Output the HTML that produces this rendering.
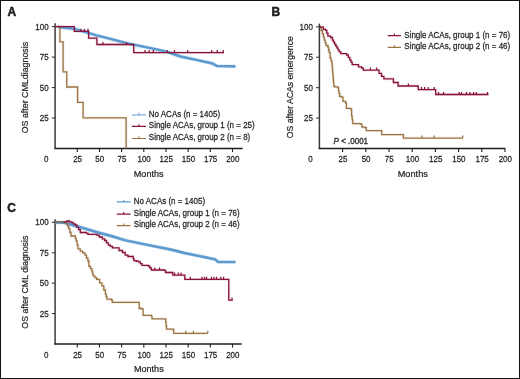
<!DOCTYPE html>
<html><head><meta charset="utf-8"><style>
html,body{margin:0;padding:0;width:520px;height:379px;overflow:hidden;background:#fff;}
</style></head><body>
<svg width="520" height="379" viewBox="0 0 520 379" style="position:absolute;left:0;top:0;font-family:'Liberation Sans', sans-serif;will-change:transform" fill="#262626">
<rect x="0" y="0" width="520" height="379" fill="#fff"/>
<path d="M0 0H520V1H0Z M0 378H520V379H0Z M0 0H1V379H0Z M519 0H520V379H519Z" fill="#111"/>
<text transform="translate(7.40,15.80) scale(1,1.080)" font-size="12.00" text-anchor="start" font-weight="bold" stroke="#111" stroke-width="0.45">A</text>
<text transform="translate(271.60,15.80) scale(1,1.080)" font-size="12.00" text-anchor="start" font-weight="bold" stroke="#111" stroke-width="0.45">B</text>
<text transform="translate(7.20,211.60) scale(1,1.080)" font-size="12.00" text-anchor="start" font-weight="bold" stroke="#111" stroke-width="0.45">C</text>
<path d="M55.10 23.30 V149.10" fill="none" stroke="#3a3a3a" stroke-width="1.5"/>
<path d="M54.40 148.50 H242.60" fill="none" stroke="#1c1c1c" stroke-width="1.35"/>
<path d="M51.80 118.03 H55.10" stroke="#3a3a3a" stroke-width="1.1"/>
<text transform="translate(48.60,121.12) scale(1,1.140)" font-size="8.00" text-anchor="end" font-weight="normal" stroke="#262626" stroke-width="0.22">25</text>
<path d="M51.80 87.55 H55.10" stroke="#3a3a3a" stroke-width="1.1"/>
<text transform="translate(48.60,90.65) scale(1,1.140)" font-size="8.00" text-anchor="end" font-weight="normal" stroke="#262626" stroke-width="0.22">50</text>
<path d="M51.80 57.07 H55.10" stroke="#3a3a3a" stroke-width="1.1"/>
<text transform="translate(48.60,60.17) scale(1,1.140)" font-size="8.00" text-anchor="end" font-weight="normal" stroke="#262626" stroke-width="0.22">75</text>
<path d="M51.80 26.60 H55.10" stroke="#3a3a3a" stroke-width="1.1"/>
<text transform="translate(48.60,29.70) scale(1,1.140)" font-size="8.00" text-anchor="end" font-weight="normal" stroke="#262626" stroke-width="0.22">100</text>
<path d="M77.28 148.50 V152.10" stroke="#1c1c1c" stroke-width="1.1"/>
<text transform="translate(77.58,162.40) scale(1,1.140)" font-size="8.00" text-anchor="middle" font-weight="normal" stroke="#262626" stroke-width="0.22">25</text>
<path d="M99.45 148.50 V152.10" stroke="#1c1c1c" stroke-width="1.1"/>
<text transform="translate(99.75,162.40) scale(1,1.140)" font-size="8.00" text-anchor="middle" font-weight="normal" stroke="#262626" stroke-width="0.22">50</text>
<path d="M121.62 148.50 V152.10" stroke="#1c1c1c" stroke-width="1.1"/>
<text transform="translate(121.92,162.40) scale(1,1.140)" font-size="8.00" text-anchor="middle" font-weight="normal" stroke="#262626" stroke-width="0.22">75</text>
<path d="M143.80 148.50 V152.10" stroke="#1c1c1c" stroke-width="1.1"/>
<text transform="translate(144.10,162.40) scale(1,1.140)" font-size="8.00" text-anchor="middle" font-weight="normal" stroke="#262626" stroke-width="0.22">100</text>
<path d="M165.97 148.50 V152.10" stroke="#1c1c1c" stroke-width="1.1"/>
<text transform="translate(166.28,162.40) scale(1,1.140)" font-size="8.00" text-anchor="middle" font-weight="normal" stroke="#262626" stroke-width="0.22">125</text>
<path d="M188.15 148.50 V152.10" stroke="#1c1c1c" stroke-width="1.1"/>
<text transform="translate(188.45,162.40) scale(1,1.140)" font-size="8.00" text-anchor="middle" font-weight="normal" stroke="#262626" stroke-width="0.22">150</text>
<path d="M210.32 148.50 V152.10" stroke="#1c1c1c" stroke-width="1.1"/>
<text transform="translate(210.62,162.40) scale(1,1.140)" font-size="8.00" text-anchor="middle" font-weight="normal" stroke="#262626" stroke-width="0.22">175</text>
<path d="M232.50 148.50 V152.10" stroke="#1c1c1c" stroke-width="1.1"/>
<text transform="translate(232.80,162.40) scale(1,1.140)" font-size="8.00" text-anchor="middle" font-weight="normal" stroke="#262626" stroke-width="0.22">200</text>
<text transform="translate(46.10,162.40) scale(1,1.140)" font-size="8.00" text-anchor="middle" font-weight="normal" stroke="#262626" stroke-width="0.22">0</text>
<text transform="translate(133.80,176.60) scale(1,1.080)" font-size="9.00" text-anchor="start" font-weight="normal" textLength="29.80" lengthAdjust="spacingAndGlyphs" stroke="#262626" stroke-width="0.22">Months</text>
<text transform="translate(28.20,87.60) rotate(-90) scale(1,1.060)" font-size="9.00" text-anchor="middle" font-weight="normal" textLength="91.50" lengthAdjust="spacingAndGlyphs" stroke="#262626" stroke-width="0.22">OS after CMLdiagnosis</text>
<path d="M131.80 115.00 H146.00 M138.90 115.00 V112.80" stroke="#5e9bd0" stroke-width="1.10"/>
<text transform="translate(148.80,116.50) scale(1,1.140)" font-size="8.00" text-anchor="start" font-weight="normal" stroke="#262626" stroke-width="0.22">No ACAs (n = 1405)</text>
<path d="M131.80 126.40 H146.00 M138.90 126.40 V124.20" stroke="#8a1339" stroke-width="1.10"/>
<text transform="translate(148.80,128.00) scale(1,1.140)" font-size="8.00" text-anchor="start" font-weight="normal" stroke="#262626" stroke-width="0.22">Single ACAs, group 1 (n = 25)</text>
<path d="M131.80 138.50 H146.00 M138.90 138.50 V136.30" stroke="#9c7444" stroke-width="1.10"/>
<text transform="translate(148.80,139.50) scale(1,1.140)" font-size="8.00" text-anchor="start" font-weight="normal" stroke="#262626" stroke-width="0.22">Single ACAs, group 2 (n = 8)</text>
<path d="M319.40 23.60 V149.10" fill="none" stroke="#3a3a3a" stroke-width="1.5"/>
<path d="M318.70 148.50 H505.30" fill="none" stroke="#1c1c1c" stroke-width="1.35"/>
<path d="M316.10 118.08 H319.40" stroke="#3a3a3a" stroke-width="1.1"/>
<text transform="translate(312.90,121.17) scale(1,1.140)" font-size="8.00" text-anchor="end" font-weight="normal" stroke="#262626" stroke-width="0.22">25</text>
<path d="M316.10 87.65 H319.40" stroke="#3a3a3a" stroke-width="1.1"/>
<text transform="translate(312.90,90.75) scale(1,1.140)" font-size="8.00" text-anchor="end" font-weight="normal" stroke="#262626" stroke-width="0.22">50</text>
<path d="M316.10 57.22 H319.40" stroke="#3a3a3a" stroke-width="1.1"/>
<text transform="translate(312.90,60.32) scale(1,1.140)" font-size="8.00" text-anchor="end" font-weight="normal" stroke="#262626" stroke-width="0.22">75</text>
<path d="M316.10 26.80 H319.40" stroke="#3a3a3a" stroke-width="1.1"/>
<text transform="translate(312.90,29.90) scale(1,1.140)" font-size="8.00" text-anchor="end" font-weight="normal" stroke="#262626" stroke-width="0.22">100</text>
<path d="M342.60 148.50 V152.10" stroke="#1c1c1c" stroke-width="1.1"/>
<text transform="translate(342.90,162.40) scale(1,1.140)" font-size="8.00" text-anchor="middle" font-weight="normal" stroke="#262626" stroke-width="0.22">25</text>
<path d="M365.80 148.50 V152.10" stroke="#1c1c1c" stroke-width="1.1"/>
<text transform="translate(366.10,162.40) scale(1,1.140)" font-size="8.00" text-anchor="middle" font-weight="normal" stroke="#262626" stroke-width="0.22">50</text>
<path d="M389.00 148.50 V152.10" stroke="#1c1c1c" stroke-width="1.1"/>
<text transform="translate(389.30,162.40) scale(1,1.140)" font-size="8.00" text-anchor="middle" font-weight="normal" stroke="#262626" stroke-width="0.22">75</text>
<path d="M412.20 148.50 V152.10" stroke="#1c1c1c" stroke-width="1.1"/>
<text transform="translate(412.50,162.40) scale(1,1.140)" font-size="8.00" text-anchor="middle" font-weight="normal" stroke="#262626" stroke-width="0.22">100</text>
<path d="M435.40 148.50 V152.10" stroke="#1c1c1c" stroke-width="1.1"/>
<text transform="translate(435.70,162.40) scale(1,1.140)" font-size="8.00" text-anchor="middle" font-weight="normal" stroke="#262626" stroke-width="0.22">125</text>
<path d="M458.60 148.50 V152.10" stroke="#1c1c1c" stroke-width="1.1"/>
<text transform="translate(458.90,162.40) scale(1,1.140)" font-size="8.00" text-anchor="middle" font-weight="normal" stroke="#262626" stroke-width="0.22">150</text>
<path d="M481.80 148.50 V152.10" stroke="#1c1c1c" stroke-width="1.1"/>
<text transform="translate(482.10,162.40) scale(1,1.140)" font-size="8.00" text-anchor="middle" font-weight="normal" stroke="#262626" stroke-width="0.22">175</text>
<path d="M505.00 148.50 V152.10" stroke="#1c1c1c" stroke-width="1.1"/>
<text transform="translate(505.30,162.40) scale(1,1.140)" font-size="8.00" text-anchor="middle" font-weight="normal" stroke="#262626" stroke-width="0.22">200</text>
<text transform="translate(310.40,162.40) scale(1,1.140)" font-size="8.00" text-anchor="middle" font-weight="normal" stroke="#262626" stroke-width="0.22">0</text>
<text transform="translate(397.70,177.30) scale(1,1.080)" font-size="9.00" text-anchor="start" font-weight="normal" textLength="30.20" lengthAdjust="spacingAndGlyphs" stroke="#262626" stroke-width="0.22">Months</text>
<text transform="translate(292.70,87.20) rotate(-90) scale(1,1.060)" font-size="9.00" text-anchor="middle" font-weight="normal" textLength="102.00" lengthAdjust="spacingAndGlyphs" stroke="#262626" stroke-width="0.22">OS after ACAs emergence</text>
<path d="M387.70 35.60 H401.00 M394.35 35.60 V33.40" stroke="#8a1339" stroke-width="1.10"/>
<text transform="translate(404.30,37.60) scale(1,1.140)" font-size="8.00" text-anchor="start" font-weight="normal" stroke="#262626" stroke-width="0.22">Single ACAs, group 1 (n = 76)</text>
<path d="M387.70 47.40 H401.00 M394.35 47.40 V45.20" stroke="#9c7444" stroke-width="1.10"/>
<text transform="translate(404.30,49.10) scale(1,1.140)" font-size="8.00" text-anchor="start" font-weight="normal" stroke="#262626" stroke-width="0.22">Single ACAs, group 2 (n = 46)</text>
<text transform="translate(333.6,144.0) scale(1,1.140)" font-size="8.00" stroke="#2a2a2a" stroke-width="0.3"><tspan font-style="italic">P</tspan> &lt; .0001</text>
<path d="M55.10 219.20 V344.60" fill="none" stroke="#3a3a3a" stroke-width="1.5"/>
<path d="M54.40 344.00 H241.60" fill="none" stroke="#1c1c1c" stroke-width="1.35"/>
<path d="M51.80 313.57 H55.10" stroke="#3a3a3a" stroke-width="1.1"/>
<text transform="translate(48.60,316.68) scale(1,1.140)" font-size="8.00" text-anchor="end" font-weight="normal" stroke="#262626" stroke-width="0.22">25</text>
<path d="M51.80 283.15 H55.10" stroke="#3a3a3a" stroke-width="1.1"/>
<text transform="translate(48.60,286.25) scale(1,1.140)" font-size="8.00" text-anchor="end" font-weight="normal" stroke="#262626" stroke-width="0.22">50</text>
<path d="M51.80 252.73 H55.10" stroke="#3a3a3a" stroke-width="1.1"/>
<text transform="translate(48.60,255.83) scale(1,1.140)" font-size="8.00" text-anchor="end" font-weight="normal" stroke="#262626" stroke-width="0.22">75</text>
<path d="M51.80 222.30 H55.10" stroke="#3a3a3a" stroke-width="1.1"/>
<text transform="translate(48.60,225.40) scale(1,1.140)" font-size="8.00" text-anchor="end" font-weight="normal" stroke="#262626" stroke-width="0.22">100</text>
<path d="M77.28 344.00 V347.60" stroke="#1c1c1c" stroke-width="1.1"/>
<text transform="translate(77.58,357.90) scale(1,1.140)" font-size="8.00" text-anchor="middle" font-weight="normal" stroke="#262626" stroke-width="0.22">25</text>
<path d="M99.45 344.00 V347.60" stroke="#1c1c1c" stroke-width="1.1"/>
<text transform="translate(99.75,357.90) scale(1,1.140)" font-size="8.00" text-anchor="middle" font-weight="normal" stroke="#262626" stroke-width="0.22">50</text>
<path d="M121.62 344.00 V347.60" stroke="#1c1c1c" stroke-width="1.1"/>
<text transform="translate(121.92,357.90) scale(1,1.140)" font-size="8.00" text-anchor="middle" font-weight="normal" stroke="#262626" stroke-width="0.22">75</text>
<path d="M143.80 344.00 V347.60" stroke="#1c1c1c" stroke-width="1.1"/>
<text transform="translate(144.10,357.90) scale(1,1.140)" font-size="8.00" text-anchor="middle" font-weight="normal" stroke="#262626" stroke-width="0.22">100</text>
<path d="M165.97 344.00 V347.60" stroke="#1c1c1c" stroke-width="1.1"/>
<text transform="translate(166.28,357.90) scale(1,1.140)" font-size="8.00" text-anchor="middle" font-weight="normal" stroke="#262626" stroke-width="0.22">125</text>
<path d="M188.15 344.00 V347.60" stroke="#1c1c1c" stroke-width="1.1"/>
<text transform="translate(188.45,357.90) scale(1,1.140)" font-size="8.00" text-anchor="middle" font-weight="normal" stroke="#262626" stroke-width="0.22">150</text>
<path d="M210.32 344.00 V347.60" stroke="#1c1c1c" stroke-width="1.1"/>
<text transform="translate(210.62,357.90) scale(1,1.140)" font-size="8.00" text-anchor="middle" font-weight="normal" stroke="#262626" stroke-width="0.22">175</text>
<path d="M232.50 344.00 V347.60" stroke="#1c1c1c" stroke-width="1.1"/>
<text transform="translate(232.80,357.90) scale(1,1.140)" font-size="8.00" text-anchor="middle" font-weight="normal" stroke="#262626" stroke-width="0.22">200</text>
<text transform="translate(46.10,357.90) scale(1,1.140)" font-size="8.00" text-anchor="middle" font-weight="normal" stroke="#262626" stroke-width="0.22">0</text>
<text transform="translate(133.90,372.30) scale(1,1.080)" font-size="9.00" text-anchor="start" font-weight="normal" textLength="29.80" lengthAdjust="spacingAndGlyphs" stroke="#262626" stroke-width="0.22">Months</text>
<text transform="translate(28.20,282.20) rotate(-90) scale(1,1.060)" font-size="9.00" text-anchor="middle" font-weight="normal" textLength="93.00" lengthAdjust="spacingAndGlyphs" stroke="#262626" stroke-width="0.22">OS after CML diagnosis</text>
<path d="M116.80 201.90 H130.60 M123.70 201.90 V199.70" stroke="#5e9bd0" stroke-width="1.10"/>
<text transform="translate(133.80,203.60) scale(1,1.140)" font-size="8.00" text-anchor="start" font-weight="normal" stroke="#262626" stroke-width="0.22">No ACAs (n = 1405)</text>
<path d="M116.80 214.10 H130.60 M123.70 214.10 V211.90" stroke="#8a1339" stroke-width="1.10"/>
<text transform="translate(133.80,215.60) scale(1,1.140)" font-size="8.00" text-anchor="start" font-weight="normal" stroke="#262626" stroke-width="0.22">Single ACAs, group 1 (n = 76)</text>
<path d="M116.80 225.60 H130.60 M123.70 225.60 V223.40" stroke="#9c7444" stroke-width="1.10"/>
<text transform="translate(133.80,226.90) scale(1,1.140)" font-size="8.00" text-anchor="start" font-weight="normal" stroke="#262626" stroke-width="0.22">Single ACAs, group 2 (n = 46)</text>
<path d="M58.00 27.00 L64.00 27.60 L75.00 29.00 L96.00 35.20 L110.00 38.80 L127.00 43.30 L150.00 48.00 L165.00 51.30 L181.00 56.60 L197.00 60.00 L212.00 63.40 L217.00 66.00 L235.50 66.40" fill="none" stroke="#5e9bd0" stroke-width="4.30" stroke-opacity="0.12" stroke-linejoin="round"/>
<path d="M55.00 26.60 L74.30 26.60 L74.30 31.40 L88.60 31.40 L88.60 38.20 L96.90 38.20 L96.90 44.50 L133.75 44.50 L133.75 52.60 L224.00 52.60" fill="none" stroke="#8a1339" stroke-width="2.90" stroke-opacity="0.12" stroke-linejoin="round"/>
<path d="M55.00 26.60 L59.90 26.60 L59.90 41.90 L63.10 41.90 L63.10 71.90 L66.80 71.90 L66.80 87.00 L77.60 87.00 L77.60 102.40 L83.10 102.40 L83.10 117.80 L126.10 117.80 L126.10 148.50" fill="none" stroke="#9c7444" stroke-width="2.90" stroke-opacity="0.12" stroke-linejoin="round"/>
<path d="M319.60 26.90 L320.70 26.90 L320.70 27.10 L323.40 27.10 L323.40 29.40 L325.60 29.40 L325.60 30.30 L326.75 30.30 L326.75 33.20 L327.90 33.20 L327.90 36.10 L330.60 36.10 L330.60 37.50 L332.40 37.50 L332.40 40.20 L333.50 40.20 L333.50 42.20 L334.60 42.20 L334.60 44.20 L335.75 44.20 L335.75 46.00 L336.90 46.00 L336.90 47.80 L338.00 47.80 L338.00 49.80 L339.10 49.80 L339.10 51.80 L340.90 51.80 L340.90 53.60 L344.00 53.60 L344.00 53.60 L346.70 53.60 L346.70 55.00 L348.25 55.00 L348.25 57.40 L349.80 57.40 L349.80 59.80 L351.00 59.80 L351.00 62.20 L352.20 62.20 L352.20 64.60 L356.10 64.60 L356.10 64.60 L358.50 64.60 L358.50 66.90 L361.70 66.90 L361.70 68.20 L363.30 68.20 L363.30 70.10 L378.50 70.10 L378.50 70.10 L379.10 70.10 L379.10 73.30 L381.50 73.30 L381.50 76.40 L383.90 76.40 L383.90 78.80 L392.60 78.80 L392.60 78.80 L393.40 78.80 L393.40 82.50 L397.30 82.50 L397.30 82.50 L398.10 82.50 L398.10 86.00 L418.20 86.00 L418.20 86.00 L418.20 86.00 L418.20 89.60 L435.70 89.60 L435.70 89.60 L435.70 89.60 L435.70 94.50 L488.50 94.50 L488.50 94.50" fill="none" stroke="#8a1339" stroke-width="2.90" stroke-opacity="0.12" stroke-linejoin="round"/>
<path d="M320.00 27.10 L321.25 27.10 L321.25 30.50 L322.50 30.50 L322.50 33.90 L323.40 33.90 L323.40 37.05 L324.30 37.05 L324.30 40.20 L325.20 40.20 L325.20 42.85 L326.10 42.85 L326.10 45.50 L327.90 45.50 L327.90 47.30 L328.55 47.30 L328.55 50.00 L329.20 50.00 L329.20 52.70 L330.10 52.70 L330.10 58.00 L331.00 58.00 L331.00 60.85 L331.90 60.85 L331.90 63.70 L332.17 63.70 L332.17 66.86 L332.44 66.86 L332.44 70.01 L332.71 70.01 L332.71 73.17 L332.99 73.17 L332.99 76.33 L333.26 76.33 L333.26 79.49 L333.53 79.49 L333.53 82.64 L333.80 82.64 L333.80 85.80 L334.00 85.80 L334.00 86.00 L334.40 86.00 L334.40 86.90 L337.90 86.90 L337.90 87.70 L338.47 87.70 L338.47 90.57 L339.03 90.57 L339.03 93.43 L339.60 93.43 L339.60 96.30 L341.30 96.30 L341.30 97.20 L343.00 97.20 L343.00 101.40 L345.60 101.40 L345.60 103.20 L346.40 103.20 L346.40 108.30 L350.70 108.30 L350.70 109.20 L351.60 109.20 L351.60 116.00 L352.20 116.00 L352.20 119.85 L352.80 119.85 L352.80 123.70 L361.00 123.70 L361.00 124.30 L361.90 124.30 L361.90 127.20 L365.30 127.20 L365.30 127.70 L366.20 127.70 L366.20 130.60 L381.70 130.60 L381.70 130.60 L381.70 130.60 L381.70 134.70 L403.40 134.70 L403.40 134.70 L403.40 134.70 L403.40 138.10 L463.00 138.10 L463.00 138.10" fill="none" stroke="#9c7444" stroke-width="2.90" stroke-opacity="0.12" stroke-linejoin="round"/>
<path d="M55.00 222.30 L64.30 222.60 L73.80 225.40 L80.90 227.40 L95.80 231.90 L111.60 236.10 L125.00 240.20 L148.00 245.00 L171.10 249.60 L185.00 253.10 L197.70 255.70 L207.00 257.60 L215.30 259.40 L218.00 262.00 L235.60 262.00" fill="none" stroke="#5e9bd0" stroke-width="4.30" stroke-opacity="0.12" stroke-linejoin="round"/>
<path d="M55.00 222.30 L64.30 222.30 L64.30 221.90 L67.00 221.90 L67.00 221.00 L69.30 221.00 L69.30 221.80 L71.60 221.80 L71.60 222.60 L73.35 222.60 L73.35 223.80 L75.10 223.80 L75.10 225.00 L76.85 225.00 L76.85 227.30 L78.60 227.30 L78.60 229.60 L80.30 229.60 L80.30 232.50 L86.10 232.50 L86.10 233.10 L87.90 233.10 L87.90 234.30 L93.70 234.30 L93.70 234.30 L96.90 234.30 L96.90 235.20 L99.30 235.20 L99.30 237.00 L102.30 237.00 L102.30 238.80 L104.60 238.80 L104.60 240.50 L106.50 240.50 L106.50 242.80 L108.40 242.80 L108.40 245.10 L110.40 245.10 L110.40 246.45 L112.40 246.45 L112.40 247.80 L117.80 247.80 L117.80 247.80 L119.10 247.80 L119.10 250.50 L122.50 250.50 L122.50 252.50 L125.20 252.50 L125.20 255.20 L127.90 255.20 L127.90 256.50 L132.60 256.50 L132.60 256.50 L133.25 256.50 L133.25 258.55 L133.90 258.55 L133.90 260.60 L136.25 260.60 L136.25 261.25 L138.60 261.25 L138.60 261.90 L140.30 261.90 L140.30 263.60 L142.00 263.60 L142.00 265.30 L148.10 265.30 L148.10 266.00 L149.75 266.00 L149.75 268.00 L151.40 268.00 L151.40 270.00 L164.20 270.00 L164.20 270.30 L165.60 270.30 L165.60 272.50 L171.00 272.50 L171.00 272.50 L172.80 272.50 L172.80 275.10 L183.90 275.10 L183.90 275.10 L184.80 275.10 L184.80 279.40 L228.80 279.40 L228.80 279.40 L228.80 279.40 L228.80 300.10 L232.80 300.10 L232.80 300.10" fill="none" stroke="#8a1339" stroke-width="2.90" stroke-opacity="0.12" stroke-linejoin="round"/>
<path d="M55.00 222.30 L64.80 222.30 L64.80 222.30 L66.40 222.30 L66.40 223.80 L67.55 223.80 L67.55 226.15 L68.70 226.15 L68.70 228.50 L69.85 228.50 L69.85 232.25 L71.00 232.25 L71.00 236.00 L74.50 236.00 L74.50 236.00 L75.40 236.00 L75.40 238.60 L76.30 238.60 L76.30 241.20 L77.15 241.20 L77.15 245.00 L78.00 245.00 L78.00 248.80 L80.30 248.80 L80.30 251.10 L82.60 251.10 L82.60 252.80 L85.00 252.80 L85.00 255.20 L86.45 255.20 L86.45 258.10 L87.90 258.10 L87.90 261.00 L88.90 261.00 L88.90 266.30 L90.40 266.30 L90.40 268.65 L91.90 268.65 L91.90 271.00 L92.50 271.00 L92.50 273.40 L93.10 273.40 L93.10 275.80 L94.85 275.80 L94.85 277.55 L96.60 277.55 L96.60 279.30 L99.60 279.30 L99.60 282.90 L102.00 282.90 L102.00 285.90 L103.80 285.90 L103.80 290.00 L105.40 290.00 L105.40 293.80 L106.15 293.80 L106.15 296.50 L106.90 296.50 L106.90 299.20 L111.50 299.20 L111.50 300.00 L112.30 300.00 L112.30 302.30 L138.50 302.30 L138.50 302.30 L139.20 302.30 L139.20 308.50 L142.30 308.50 L142.30 309.20 L143.10 309.20 L143.10 315.40 L151.50 315.40 L151.50 316.20 L152.00 316.20 L152.00 318.90 L165.40 318.90 L165.40 319.10 L165.77 319.10 L165.77 322.47 L166.13 322.47 L166.13 325.83 L166.50 325.83 L166.50 329.20 L173.20 329.20 L173.20 329.50 L173.70 329.50 L173.70 333.40 L207.80 333.40 L207.80 333.40" fill="none" stroke="#9c7444" stroke-width="2.90" stroke-opacity="0.12" stroke-linejoin="round"/>
<path d="M58.00 27.00 L64.00 27.60 L75.00 29.00 L96.00 35.20 L110.00 38.80 L127.00 43.30 L150.00 48.00 L165.00 51.30 L181.00 56.60 L197.00 60.00 L212.00 63.40 L217.00 66.00 L235.50 66.40" fill="none" stroke="#5e9bd0" stroke-width="2.70" stroke-linejoin="miter"/>
<path d="M55.00 222.30 L64.30 222.60 L73.80 225.40 L80.90 227.40 L95.80 231.90 L111.60 236.10 L125.00 240.20 L148.00 245.00 L171.10 249.60 L185.00 253.10 L197.70 255.70 L207.00 257.60 L215.30 259.40 L218.00 262.00 L235.60 262.00" fill="none" stroke="#5e9bd0" stroke-width="2.70" stroke-linejoin="miter"/>
<path d="M55.00 26.60 L59.90 26.60 L59.90 41.90 L63.10 41.90 L63.10 71.90 L66.80 71.90 L66.80 87.00 L77.60 87.00 L77.60 102.40 L83.10 102.40 L83.10 117.80 L126.10 117.80 L126.10 148.50" fill="none" stroke="#9c7444" stroke-width="1.30" stroke-linejoin="miter"/>
<path d="M320.00 27.10 L321.25 27.10 L321.25 30.50 L322.50 30.50 L322.50 33.90 L323.40 33.90 L323.40 37.05 L324.30 37.05 L324.30 40.20 L325.20 40.20 L325.20 42.85 L326.10 42.85 L326.10 45.50 L327.90 45.50 L327.90 47.30 L328.55 47.30 L328.55 50.00 L329.20 50.00 L329.20 52.70 L330.10 52.70 L330.10 58.00 L331.00 58.00 L331.00 60.85 L331.90 60.85 L331.90 63.70 L332.17 63.70 L332.17 66.86 L332.44 66.86 L332.44 70.01 L332.71 70.01 L332.71 73.17 L332.99 73.17 L332.99 76.33 L333.26 76.33 L333.26 79.49 L333.53 79.49 L333.53 82.64 L333.80 82.64 L333.80 85.80 L334.00 85.80 L334.00 86.00 L334.40 86.00 L334.40 86.90 L337.90 86.90 L337.90 87.70 L338.47 87.70 L338.47 90.57 L339.03 90.57 L339.03 93.43 L339.60 93.43 L339.60 96.30 L341.30 96.30 L341.30 97.20 L343.00 97.20 L343.00 101.40 L345.60 101.40 L345.60 103.20 L346.40 103.20 L346.40 108.30 L350.70 108.30 L350.70 109.20 L351.60 109.20 L351.60 116.00 L352.20 116.00 L352.20 119.85 L352.80 119.85 L352.80 123.70 L361.00 123.70 L361.00 124.30 L361.90 124.30 L361.90 127.20 L365.30 127.20 L365.30 127.70 L366.20 127.70 L366.20 130.60 L381.70 130.60 L381.70 130.60 L381.70 130.60 L381.70 134.70 L403.40 134.70 L403.40 134.70 L403.40 134.70 L403.40 138.10 L463.00 138.10 L463.00 138.10" fill="none" stroke="#9c7444" stroke-width="1.30" stroke-linejoin="miter"/>
<path d="M422.00 138.10 V135.50 M434.20 138.10 V135.50 M462.70 138.10 V135.50 " stroke="#9c7444" stroke-width="1.25" fill="none"/>
<path d="M55.00 222.30 L64.80 222.30 L64.80 222.30 L66.40 222.30 L66.40 223.80 L67.55 223.80 L67.55 226.15 L68.70 226.15 L68.70 228.50 L69.85 228.50 L69.85 232.25 L71.00 232.25 L71.00 236.00 L74.50 236.00 L74.50 236.00 L75.40 236.00 L75.40 238.60 L76.30 238.60 L76.30 241.20 L77.15 241.20 L77.15 245.00 L78.00 245.00 L78.00 248.80 L80.30 248.80 L80.30 251.10 L82.60 251.10 L82.60 252.80 L85.00 252.80 L85.00 255.20 L86.45 255.20 L86.45 258.10 L87.90 258.10 L87.90 261.00 L88.90 261.00 L88.90 266.30 L90.40 266.30 L90.40 268.65 L91.90 268.65 L91.90 271.00 L92.50 271.00 L92.50 273.40 L93.10 273.40 L93.10 275.80 L94.85 275.80 L94.85 277.55 L96.60 277.55 L96.60 279.30 L99.60 279.30 L99.60 282.90 L102.00 282.90 L102.00 285.90 L103.80 285.90 L103.80 290.00 L105.40 290.00 L105.40 293.80 L106.15 293.80 L106.15 296.50 L106.90 296.50 L106.90 299.20 L111.50 299.20 L111.50 300.00 L112.30 300.00 L112.30 302.30 L138.50 302.30 L138.50 302.30 L139.20 302.30 L139.20 308.50 L142.30 308.50 L142.30 309.20 L143.10 309.20 L143.10 315.40 L151.50 315.40 L151.50 316.20 L152.00 316.20 L152.00 318.90 L165.40 318.90 L165.40 319.10 L165.77 319.10 L165.77 322.47 L166.13 322.47 L166.13 325.83 L166.50 325.83 L166.50 329.20 L173.20 329.20 L173.20 329.50 L173.70 329.50 L173.70 333.40 L207.80 333.40 L207.80 333.40" fill="none" stroke="#9c7444" stroke-width="1.30" stroke-linejoin="miter"/>
<path d="M185.80 333.40 V330.80 M193.40 333.40 V330.80 M207.80 333.40 V330.80 " stroke="#9c7444" stroke-width="1.25" fill="none"/>
<path d="M55.00 26.60 L74.30 26.60 L74.30 31.40 L88.60 31.40 L88.60 38.20 L96.90 38.20 L96.90 44.50 L133.75 44.50 L133.75 52.60 L224.00 52.60" fill="none" stroke="#8a1339" stroke-width="1.30" stroke-linejoin="miter"/>
<path d="M80.90 31.40 V28.80 M84.40 31.40 V28.80 M88.00 31.40 V28.80 M102.90 44.50 V41.90 M126.60 44.50 V41.90 M145.00 52.60 V50.00 M149.20 52.60 V50.00 M153.30 52.60 V50.00 M167.40 52.60 V50.00 M174.50 52.60 V50.00 M187.70 52.60 V50.00 M211.70 52.60 V50.00 M217.30 52.60 V50.00 M223.30 52.60 V50.00 " stroke="#8a1339" stroke-width="1.25" fill="none"/>
<path d="M319.60 26.90 L320.70 26.90 L320.70 27.10 L323.40 27.10 L323.40 29.40 L325.60 29.40 L325.60 30.30 L326.75 30.30 L326.75 33.20 L327.90 33.20 L327.90 36.10 L330.60 36.10 L330.60 37.50 L332.40 37.50 L332.40 40.20 L333.50 40.20 L333.50 42.20 L334.60 42.20 L334.60 44.20 L335.75 44.20 L335.75 46.00 L336.90 46.00 L336.90 47.80 L338.00 47.80 L338.00 49.80 L339.10 49.80 L339.10 51.80 L340.90 51.80 L340.90 53.60 L344.00 53.60 L344.00 53.60 L346.70 53.60 L346.70 55.00 L348.25 55.00 L348.25 57.40 L349.80 57.40 L349.80 59.80 L351.00 59.80 L351.00 62.20 L352.20 62.20 L352.20 64.60 L356.10 64.60 L356.10 64.60 L358.50 64.60 L358.50 66.90 L361.70 66.90 L361.70 68.20 L363.30 68.20 L363.30 70.10 L378.50 70.10 L378.50 70.10 L379.10 70.10 L379.10 73.30 L381.50 73.30 L381.50 76.40 L383.90 76.40 L383.90 78.80 L392.60 78.80 L392.60 78.80 L393.40 78.80 L393.40 82.50 L397.30 82.50 L397.30 82.50 L398.10 82.50 L398.10 86.00 L418.20 86.00 L418.20 86.00 L418.20 86.00 L418.20 89.60 L435.70 89.60 L435.70 89.60 L435.70 89.60 L435.70 94.50 L488.50 94.50 L488.50 94.50" fill="none" stroke="#8a1339" stroke-width="1.30" stroke-linejoin="miter"/>
<path d="M370.40 70.10 V67.50 M376.70 70.10 V67.50 M408.40 86.00 V83.40 M421.50 89.60 V87.00 M424.60 89.60 V87.00 M428.20 89.60 V87.00 M434.20 89.60 V87.00 M438.50 94.50 V91.90 M443.50 94.50 V91.90 M459.20 94.50 V91.90 M461.50 94.50 V91.90 M466.50 94.50 V91.90 M470.00 94.50 V91.90 M473.60 94.50 V91.90 M476.30 94.50 V91.90 M487.50 94.50 V91.90 " stroke="#8a1339" stroke-width="1.25" fill="none"/>
<path d="M55.00 222.30 L64.30 222.30 L64.30 221.90 L67.00 221.90 L67.00 221.00 L69.30 221.00 L69.30 221.80 L71.60 221.80 L71.60 222.60 L73.35 222.60 L73.35 223.80 L75.10 223.80 L75.10 225.00 L76.85 225.00 L76.85 227.30 L78.60 227.30 L78.60 229.60 L80.30 229.60 L80.30 232.50 L86.10 232.50 L86.10 233.10 L87.90 233.10 L87.90 234.30 L93.70 234.30 L93.70 234.30 L96.90 234.30 L96.90 235.20 L99.30 235.20 L99.30 237.00 L102.30 237.00 L102.30 238.80 L104.60 238.80 L104.60 240.50 L106.50 240.50 L106.50 242.80 L108.40 242.80 L108.40 245.10 L110.40 245.10 L110.40 246.45 L112.40 246.45 L112.40 247.80 L117.80 247.80 L117.80 247.80 L119.10 247.80 L119.10 250.50 L122.50 250.50 L122.50 252.50 L125.20 252.50 L125.20 255.20 L127.90 255.20 L127.90 256.50 L132.60 256.50 L132.60 256.50 L133.25 256.50 L133.25 258.55 L133.90 258.55 L133.90 260.60 L136.25 260.60 L136.25 261.25 L138.60 261.25 L138.60 261.90 L140.30 261.90 L140.30 263.60 L142.00 263.60 L142.00 265.30 L148.10 265.30 L148.10 266.00 L149.75 266.00 L149.75 268.00 L151.40 268.00 L151.40 270.00 L164.20 270.00 L164.20 270.30 L165.60 270.30 L165.60 272.50 L171.00 272.50 L171.00 272.50 L172.80 272.50 L172.80 275.10 L183.90 275.10 L183.90 275.10 L184.80 275.10 L184.80 279.40 L228.80 279.40 L228.80 279.40 L228.80 279.40 L228.80 300.10 L232.80 300.10 L232.80 300.10" fill="none" stroke="#8a1339" stroke-width="1.30" stroke-linejoin="miter"/>
<path d="M174.60 275.10 V272.50 M178.30 275.10 V272.50 M181.10 275.10 V272.50 M190.30 279.40 V276.80 M202.00 279.40 V276.80 M204.50 279.40 V276.80 M206.60 279.40 V276.80 M211.50 279.40 V276.80 M214.00 279.40 V276.80 M216.50 279.40 V276.80 M220.80 279.40 V276.80 M223.60 279.40 V276.80 M232.00 300.10 V297.50 M154.80 270.10 V267.50 M159.50 270.10 V267.50 " stroke="#8a1339" stroke-width="1.25" fill="none"/>
<path d="M55.5 222.3 H63.5" stroke="#7d7b6a" stroke-width="1.6"/>
</svg>
</body></html>
